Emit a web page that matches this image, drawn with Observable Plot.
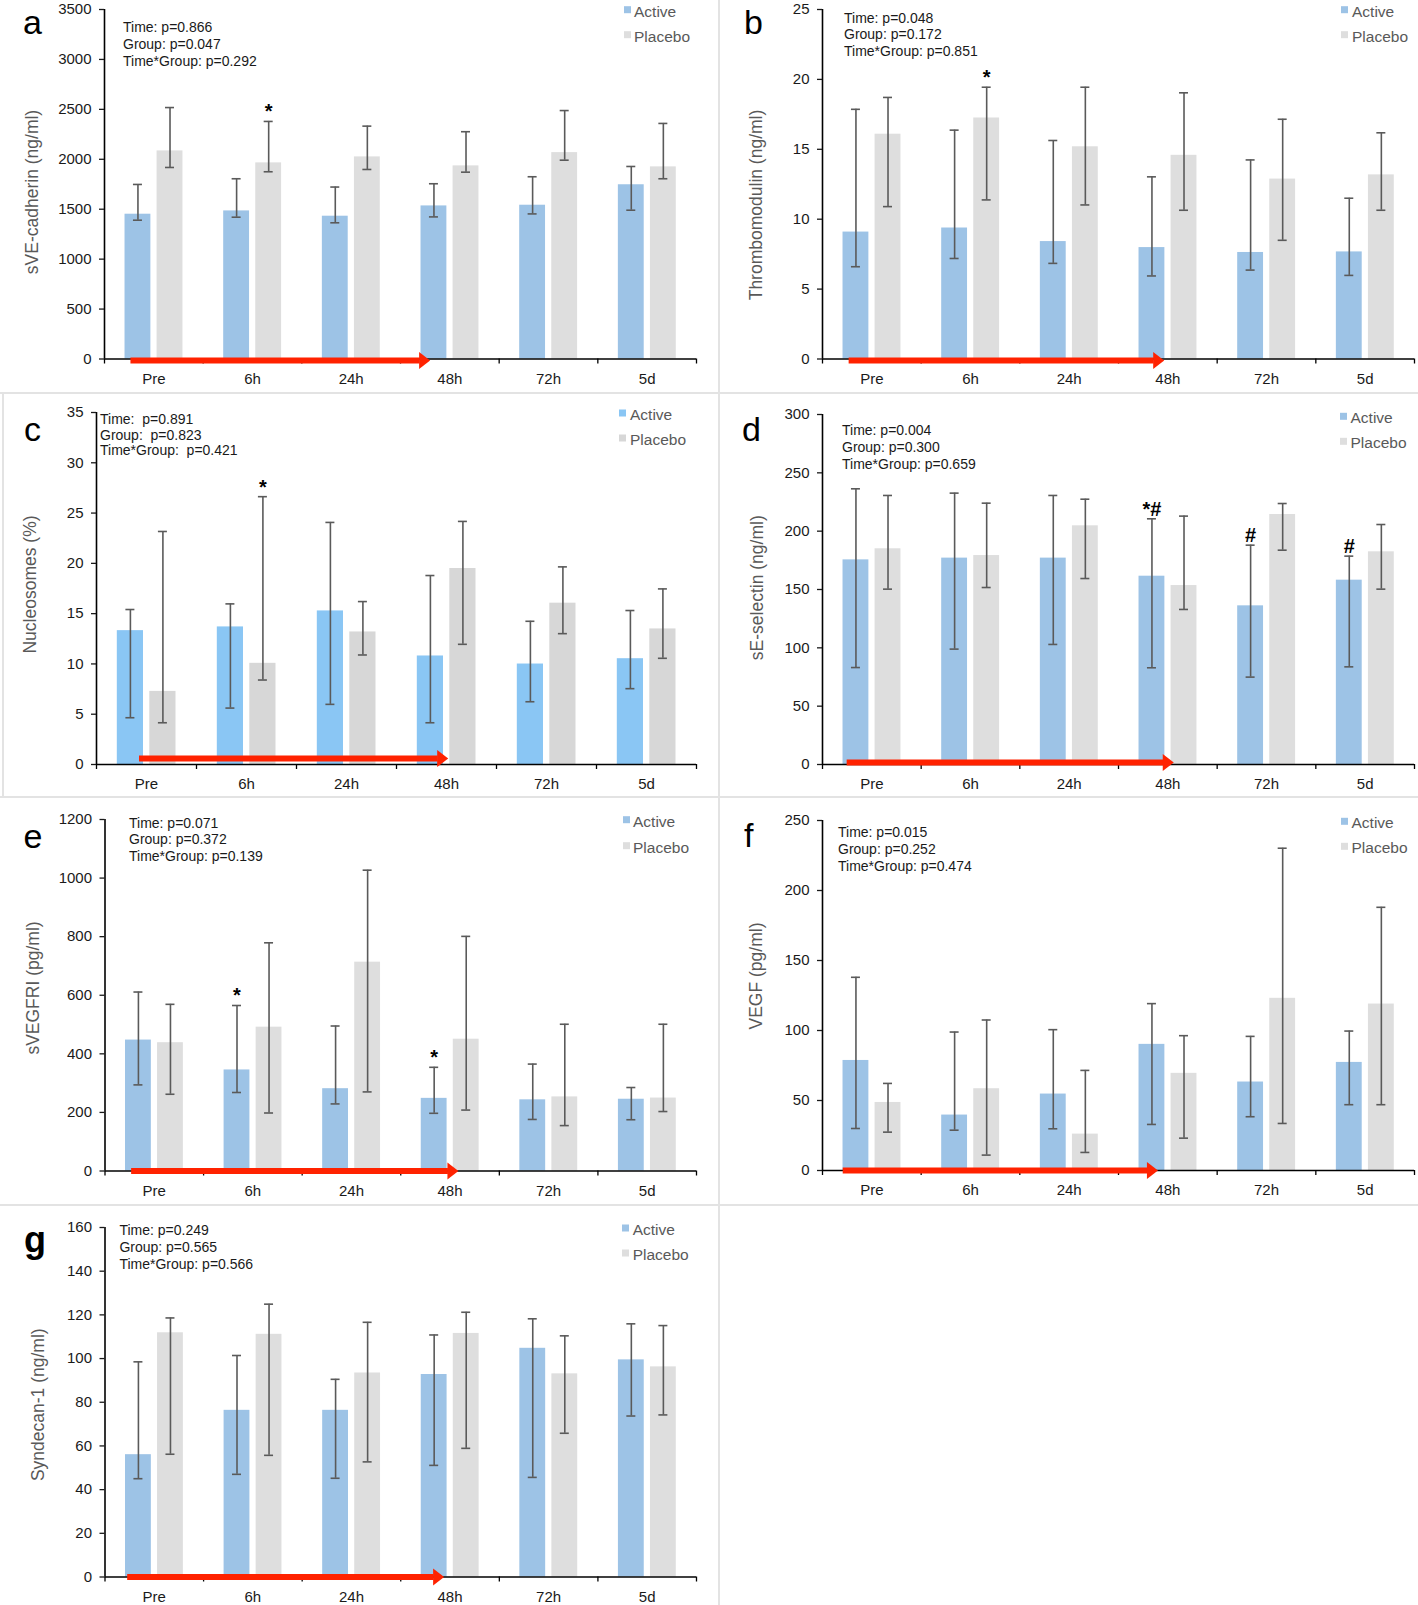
<!DOCTYPE html>
<html>
<head>
<meta charset="utf-8">
<script src="https://cdn.jsdelivr.net/npm/d3@7"></script>
<script src="https://cdn.jsdelivr.net/npm/@observablehq/plot@0.6"></script>
<style>
html,body{margin:0;padding:0;background:#fff;}
#page{position:relative;width:1418px;height:1605px;overflow:hidden;background:#fff;font-family:"Liberation Sans",Arial,sans-serif;}
.panel{position:absolute;}
.panel svg{overflow:visible;}
.sep{position:absolute;background:#e3e3e3;}
#overlay{position:absolute;left:0;top:0;pointer-events:none;overflow:visible;}
</style>
</head>
<body>
<div id="page"></div>
<script>
// ---------- categories ----------
const times = ["Pre", "6h", "24h", "48h", "72h", "5d"];
const groups = ["Active", "Placebo"];
const treatment = [{from: "Pre", to: "48h"}];

// ---------- a: sVE-cadherin (ng/ml) ----------
const cadherinActiveMean = [1450, 1483, 1430, 1533, 1540, 1745];
const cadherinActiveLow  = [1390, 1420, 1364, 1423, 1453, 1490];
const cadherinActiveHigh = [1748, 1805, 1722, 1755, 1825, 1928];
const cadherinPlaceboMean = [2084, 1964, 2024, 1934, 2067, 1924];
const cadherinPlaceboLow  = [1918, 1875, 1898, 1871, 1991, 1805];
const cadherinPlaceboHigh = [2518, 2379, 2332, 2276, 2488, 2359];
const cadherinStats = ["Time: p=0.866", "Group: p=0.047", "Time*Group: p=0.292"];
const cadherinNotes = [{time: "6h", group: "Placebo", label: "*"}];

// ---------- b: Thrombomodulin (ng/ml) ----------
const thrombActiveMean = [9.08, 9.37, 8.40, 7.97, 7.62, 7.66];
const thrombActiveLow  = [6.60, 7.19, 6.84, 5.94, 6.36, 5.98];
const thrombActiveHigh = [17.86, 16.37, 15.63, 13.03, 14.24, 11.50];
const thrombPlaceboMean = [16.08, 17.24, 15.18, 14.57, 12.87, 13.17];
const thrombPlaceboLow  = [10.90, 11.38, 11.02, 10.64, 8.49, 10.64];
const thrombPlaceboHigh = [18.71, 19.44, 19.44, 19.04, 17.15, 16.18];
const thrombStats = ["Time: p=0.048", "Group: p=0.172", "Time*Group: p=0.851"];
const thrombNotes = [{time: "6h", group: "Placebo", label: "*"}];

// ---------- c: Nucleosomes (%) ----------
const nucActiveMean = [13.31, 13.68, 15.27, 10.79, 9.99, 10.52];
const nucActiveLow  = [4.65, 5.61, 5.98, 4.15, 6.24, 7.54];
const nucActiveHigh = [15.41, 15.97, 24.07, 18.79, 14.24, 15.31];
const nucPlaceboMean = [7.27, 10.06, 13.18, 19.49, 16.04, 13.48];
const nucPlaceboLow  = [4.15, 8.40, 10.89, 11.95, 13.01, 10.56];
const nucPlaceboHigh = [23.17, 26.63, 16.20, 24.17, 19.65, 17.46];
const nucStats = ["Time:  p=0.891", "Group:  p=0.823", "Time*Group:  p=0.421"];
const nucNotes = [{time: "6h", group: "Placebo", label: "*"}];

// ---------- d: sE-selectin (ng/ml) ----------
const selActiveMean = [175.4, 176.9, 176.9, 161.4, 136.0, 158.0];
const selActiveLow  = [83.1, 98.9, 102.9, 82.9, 74.9, 83.7];
const selActiveHigh = [236.3, 232.6, 230.6, 210.6, 188.0, 178.6];
const selPlaceboMean = [184.9, 179.1, 204.6, 153.4, 214.3, 182.3];
const selPlaceboLow  = [150.3, 151.7, 159.4, 132.9, 183.7, 150.3];
const selPlaceboHigh = [230.6, 224.0, 227.4, 212.9, 223.7, 205.7];
const selStats = ["Time: p=0.004", "Group: p=0.300", "Time*Group: p=0.659"];
const selNotes = [
  {time: "48h", group: "Active", label: "*#"},
  {time: "72h", group: "Active", label: "#"},
  {time: "5d", group: "Active", label: "#"}
];

// ---------- e: sVEGFRI (pg/ml) ----------
const vegfr1ActiveMean = [447, 345, 281, 248, 243, 245];
const vegfr1ActiveLow  = [294, 268, 229, 197, 176, 175];
const vegfr1ActiveHigh = [611, 565, 495, 354, 365, 285];
const vegfr1PlaceboMean = [438, 491, 713, 450, 253, 249];
const vegfr1PlaceboLow  = [262, 198, 270, 208, 155, 203];
const vegfr1PlaceboHigh = [569, 779, 1027, 801, 501, 501];
const vegfr1Stats = ["Time: p=0.071", "Group: p=0.372", "Time*Group: p=0.139"];
const vegfr1Notes = [
  {time: "6h", group: "Active", label: "*"},
  {time: "48h", group: "Active", label: "*"}
];

// ---------- f: VEGF (pg/ml) ----------
const vegfActiveMean = [78.6, 39.6, 54.6, 90.1, 63.2, 77.2];
const vegfActiveLow  = [30.0, 28.8, 29.8, 32.9, 38.4, 47.0];
const vegfActiveHigh = [138.0, 98.9, 100.6, 119.2, 95.8, 99.6];
const vegfPlaceboMean = [48.6, 58.4, 26.0, 69.4, 123.0, 118.9];
const vegfPlaceboLow  = [27.4, 11.0, 12.9, 23.1, 33.6, 47.0];
const vegfPlaceboHigh = [62.2, 107.5, 71.5, 96.3, 230.2, 188.0];
const vegfStats = ["Time: p=0.015", "Group: p=0.252", "Time*Group: p=0.474"];
const vegfNotes = [];

// ---------- g: Syndecan-1 (ng/ml) ----------
const syndActiveMean = [56.0, 76.3, 76.3, 92.7, 104.7, 99.4];
const syndActiveLow  = [45.0, 47.0, 45.2, 51.1, 45.6, 73.7];
const syndActiveHigh = [98.5, 101.4, 90.5, 110.8, 118.2, 115.9];
const syndPlaceboMean = [111.8, 111.1, 93.4, 111.5, 93.0, 96.2];
const syndPlaceboLow  = [56.2, 55.7, 52.7, 58.9, 65.8, 74.2];
const syndPlaceboHigh = [118.6, 124.9, 116.6, 121.2, 110.4, 115.1];
const syndStats = ["Time: p=0.249", "Group: p=0.565", "Time*Group: p=0.566"];
const syndNotes = [];

// ---------- panel definitions (data) ----------
const panels = [
  {id: "a", title: "sVE-cadherin (ng/ml)", yMax: 3500, yStep: 500, stats: cadherinStats, notes: cadherinNotes,
   Active: {mean: cadherinActiveMean, lo: cadherinActiveLow, hi: cadherinActiveHigh},
   Placebo: {mean: cadherinPlaceboMean, lo: cadherinPlaceboLow, hi: cadherinPlaceboHigh}},
  {id: "b", title: "Thrombomodulin (ng/ml)", yMax: 25, yStep: 5, stats: thrombStats, notes: thrombNotes,
   Active: {mean: thrombActiveMean, lo: thrombActiveLow, hi: thrombActiveHigh},
   Placebo: {mean: thrombPlaceboMean, lo: thrombPlaceboLow, hi: thrombPlaceboHigh}},
  {id: "c", title: "Nucleosomes (%)", yMax: 35, yStep: 5, stats: nucStats, notes: nucNotes,
   Active: {mean: nucActiveMean, lo: nucActiveLow, hi: nucActiveHigh},
   Placebo: {mean: nucPlaceboMean, lo: nucPlaceboLow, hi: nucPlaceboHigh}},
  {id: "d", title: "sE-selectin (ng/ml)", yMax: 300, yStep: 50, stats: selStats, notes: selNotes,
   Active: {mean: selActiveMean, lo: selActiveLow, hi: selActiveHigh},
   Placebo: {mean: selPlaceboMean, lo: selPlaceboLow, hi: selPlaceboHigh}},
  {id: "e", title: "sVEGFRI (pg/ml)", yMax: 1200, yStep: 200, stats: vegfr1Stats, notes: vegfr1Notes,
   Active: {mean: vegfr1ActiveMean, lo: vegfr1ActiveLow, hi: vegfr1ActiveHigh},
   Placebo: {mean: vegfr1PlaceboMean, lo: vegfr1PlaceboLow, hi: vegfr1PlaceboHigh}},
  {id: "f", title: "VEGF (pg/ml)", yMax: 250, yStep: 50, stats: vegfStats, notes: vegfNotes,
   Active: {mean: vegfActiveMean, lo: vegfActiveLow, hi: vegfActiveHigh},
   Placebo: {mean: vegfPlaceboMean, lo: vegfPlaceboLow, hi: vegfPlaceboHigh}},
  {id: "g", title: "Syndecan-1 (ng/ml)", yMax: 160, yStep: 20, stats: syndStats, notes: syndNotes,
   Active: {mean: syndActiveMean, lo: syndActiveLow, hi: syndActiveHigh},
   Placebo: {mean: syndPlaceboMean, lo: syndPlaceboLow, hi: syndPlaceboHigh}}
];

// ---------- layout & styles ----------
const layouts = {
  a: {box: [0, 0, 717, 392], frame: [104, 696, 9, 358.5], arrow: [0.268, 0.30, 1.5], letter: [23, 34, 34, "normal"],
      stats: [123, 31.7, 17], legend: [624, 634, 16.7, 41.7], title: [31.7, 192], palette: "std"},
  b: {box: [718, 0, 700, 392], frame: [822, 1414, 9, 358.5], arrow: [0.27, 0.463, 1.4], letter: [744, 34, 34, "normal"],
      stats: [844, 22.7, 16.5], legend: [1341, 1352, 16.7, 41.7], title: [756, 205], palette: "std"},
  c: {box: [0, 393, 717, 404], frame: [96, 696, 412, 764], arrow: [0.43, 0.517, -6], letter: [24, 441, 34, "normal"],
      stats: [100, 424, 15.7], legend: [619, 630, 420, 445], title: [29.8, 584.5], palette: "bright"},
  d: {box: [718, 393, 700, 404], frame: [822, 1414, 414, 764], arrow: [0.25, 0.56, -2], letter: [742, 441, 34, "normal"],
      stats: [842, 435, 17], legend: [1340, 1350.5, 423.3, 448.3], title: [757, 587.7], palette: "std"},
  e: {box: [0, 797, 717, 408], frame: [104.5, 696, 819, 1170.5], arrow: [0.27, 0.585, 0], letter: [23.5, 848, 34, "normal"],
      stats: [129, 827.7, 16.5], legend: [623, 633, 826.7, 852.7], title: [32.8, 988], palette: "std"},
  f: {box: [718, 797, 700, 408], frame: [822, 1414, 820, 1170], arrow: [0.21, 0.40, 0], letter: [744, 847, 34, "normal"],
      stats: [838, 836.7, 17], legend: [1341, 1351.5, 828.3, 853.3], title: [756, 976], palette: "std"},
  g: {box: [0, 1205, 717, 400], frame: [104.5, 696, 1227, 1576.5], arrow: [0.23, 0.44, 0], letter: [24, 1252, 36, "bold"],
      stats: [119.4, 1235, 17], legend: [622, 632.7, 1235, 1260], title: [37.9, 1404.7], palette: "std"}
};
const palettes = {
  std: {Active: "#9DC3E6", Placebo: "#DEDEDE"},
  bright: {Active: "#8AC6F4", Placebo: "#D7D7D7"}
};
const barFrac = {Active: [0.208, 0.47], Placebo: [0.533, 0.795]};
const errColor = "#5a5a5a";
const arrowColor = "#FF2200";
const capHalf = 4.5;
const headLen = 11;
const headHalf = 8.5;
const arrowHead = {
  draw(ctx) {
    ctx.moveTo(0, 0);
    ctx.lineTo(-headLen, -headHalf);
    ctx.lineTo(-headLen, headHalf);
    ctx.closePath();
  }
};
const FONT = '"Liberation Sans", Arial, sans-serif';

// ---------- build ----------
const page = document.getElementById("page");
const NS = "http://www.w3.org/2000/svg";

// separators
[[718, 0, 2, 1605], [0, 392, 1418, 2], [0, 796, 1418, 2], [0, 1204, 1418, 2], [2, 392, 2, 406]].forEach(([l, t, w, h]) => {
  const s = document.createElement("div");
  s.className = "sep";
  Object.assign(s.style, {left: l + "px", top: t + "px", width: w + "px", height: h + "px"});
  page.appendChild(s);
});

for (const p of panels) {
  const L = layouts[p.id];
  const [bl, bt, bw, bh] = L.box;
  const [x0, x1, yT, yB] = L.frame;
  const band = (x1 - x0) / times.length;
  const colors = palettes[L.palette];

  const rows = [];
  times.forEach((t, i) => groups.forEach(g => {
    rows.push({time: t, group: g, mean: p[g].mean[i], lo: p[g].lo[i], hi: p[g].hi[i]});
  }));

  const marks = [];
  for (const g of groups) {
    const [f0, f1] = barFrac[g];
    const sub = rows.filter(d => d.group === g);
    marks.push(Plot.barY(sub, {x: "time", y: "mean", fill: colors[g], insetLeft: f0 * band, insetRight: (1 - f1) * band}));
  }
  // axes
  marks.push(Plot.ruleY([0], {stroke: "#000", strokeWidth: 1.6}));
  marks.push(Plot.ruleX([times[0]], {x: d => d, dx: -band / 2, stroke: "#000", strokeWidth: 1.6}));
  marks.push(Plot.axisY({ticks: d3.range(0, p.yMax + p.yStep / 2, p.yStep), tickFormat: d => String(d),
    tickSize: 5, tickPadding: 8, fontSize: 15, label: null, color: "#1a1a1a", strokeWidth: 1.3}));
  marks.push(Plot.axisX({ticks: times, tickSize: 5, tickFormat: () => "", dx: -band / 2, label: null, color: "#000", strokeWidth: 1.3}));
  marks.push(Plot.axisX({ticks: [times[times.length - 1]], tickSize: 5, tickFormat: () => "", dx: band / 2, label: null, color: "#000", strokeWidth: 1.3}));
  marks.push(Plot.axisX({ticks: times, tickSize: 0, tickPadding: 14, fontSize: 15, label: null, color: "#1a1a1a"}));

  // treatment arrow
  const [s, e, ady] = L.arrow;
  marks.push(Plot.ruleY(treatment, {x1: "from", x2: "to", y: () => 0, insetLeft: s * band,
    insetRight: (1 - e) * band + headLen - 1, dy: ady, stroke: arrowColor, strokeWidth: 6}));
  marks.push(Plot.dot(treatment, {x: "to", y: () => 0, dx: (e - 0.5) * band, dy: ady, symbol: arrowHead, r: 5,
    fill: arrowColor, stroke: "none"}));

  // error bars & annotations
  for (const g of groups) {
    const [f0, f1] = barFrac[g];
    const c = (f0 + f1) / 2 * band;
    const sub = rows.filter(d => d.group === g);
    marks.push(Plot.ruleX(sub, {x: "time", y1: "lo", y2: "hi", dx: c - band / 2, stroke: errColor, strokeWidth: 1.6}));
    for (const k of ["lo", "hi"]) {
      marks.push(Plot.tickY(sub, {x: "time", y: k, insetLeft: c - capHalf, insetRight: band - c - capHalf,
        stroke: errColor, strokeWidth: 1.6}));
    }
    const notes = p.notes.filter(n => n.group === g).map(n => ({...n, hi: sub.find(r => r.time === n.time).hi}));
    if (notes.length) {
      marks.push(Plot.text(notes, {x: "time", y: "hi", text: "label", dx: c - band / 2, dy: -9.5,
        fontSize: 20, fontWeight: "bold", fill: "#000"}));
    }
  }

  const chart = Plot.plot({
    width: bw, height: bh,
    marginLeft: x0 - bl, marginRight: bl + bw - x1, marginTop: yT - bt, marginBottom: bt + bh - yB,
    x: {type: "band", domain: times, padding: 0, round: false, axis: null},
    y: {domain: [0, p.yMax], axis: null},
    style: {fontFamily: FONT, fontSize: "15px", overflow: "visible", background: "transparent", color: "#1a1a1a"},
    marks
  });
  const div = document.createElement("div");
  div.className = "panel";
  Object.assign(div.style, {left: bl + "px", top: bt + "px", width: bw + "px", height: bh + "px"});
  div.appendChild(chart);
  page.appendChild(div);
}

// ---------- overlay texts (panel letters, statistics, legends, y titles) ----------
const overlay = document.createElementNS(NS, "svg");
overlay.setAttribute("id", "overlay");
overlay.setAttribute("width", 1418);
overlay.setAttribute("height", 1605);
overlay.setAttribute("font-family", FONT);
page.appendChild(overlay);

function txt(x, y, str, attrs) {
  const t = document.createElementNS(NS, "text");
  t.setAttribute("x", x);
  t.setAttribute("y", y);
  for (const [k, v] of Object.entries(attrs || {})) t.setAttribute(k, v);
  t.setAttribute("style", "white-space:pre");
  t.textContent = str;
  overlay.appendChild(t);
  return t;
}

for (const p of panels) {
  const L = layouts[p.id];
  const colors = palettes[L.palette];
  // letter
  txt(L.letter[0], L.letter[1], p.id, {"font-size": L.letter[2], "font-weight": L.letter[3], fill: "#000"});
  // statistics
  p.stats.forEach((line, i) => txt(L.stats[0], L.stats[1] + i * L.stats[2], line, {"font-size": 14, fill: "#1a1a1a"}));
  // legend
  groups.forEach((g, i) => {
    const y = L.legend[2 + i];
    const r = document.createElementNS(NS, "rect");
    r.setAttribute("x", L.legend[0]);
    r.setAttribute("y", y - 10.5);
    r.setAttribute("width", 7);
    r.setAttribute("height", 7);
    r.setAttribute("fill", colors[g]);
    overlay.appendChild(r);
    txt(L.legend[1], y, g, {"font-size": 15.5, fill: "#595959"});
  });
  // y title
  const [cx, cy] = L.title;
  txt(0, 0, p.title, {"font-size": 17.5, fill: "#595959", "text-anchor": "middle", "dominant-baseline": "central",
    transform: `translate(${cx},${cy}) rotate(-90)`});
}
</script>
</body>
</html>
